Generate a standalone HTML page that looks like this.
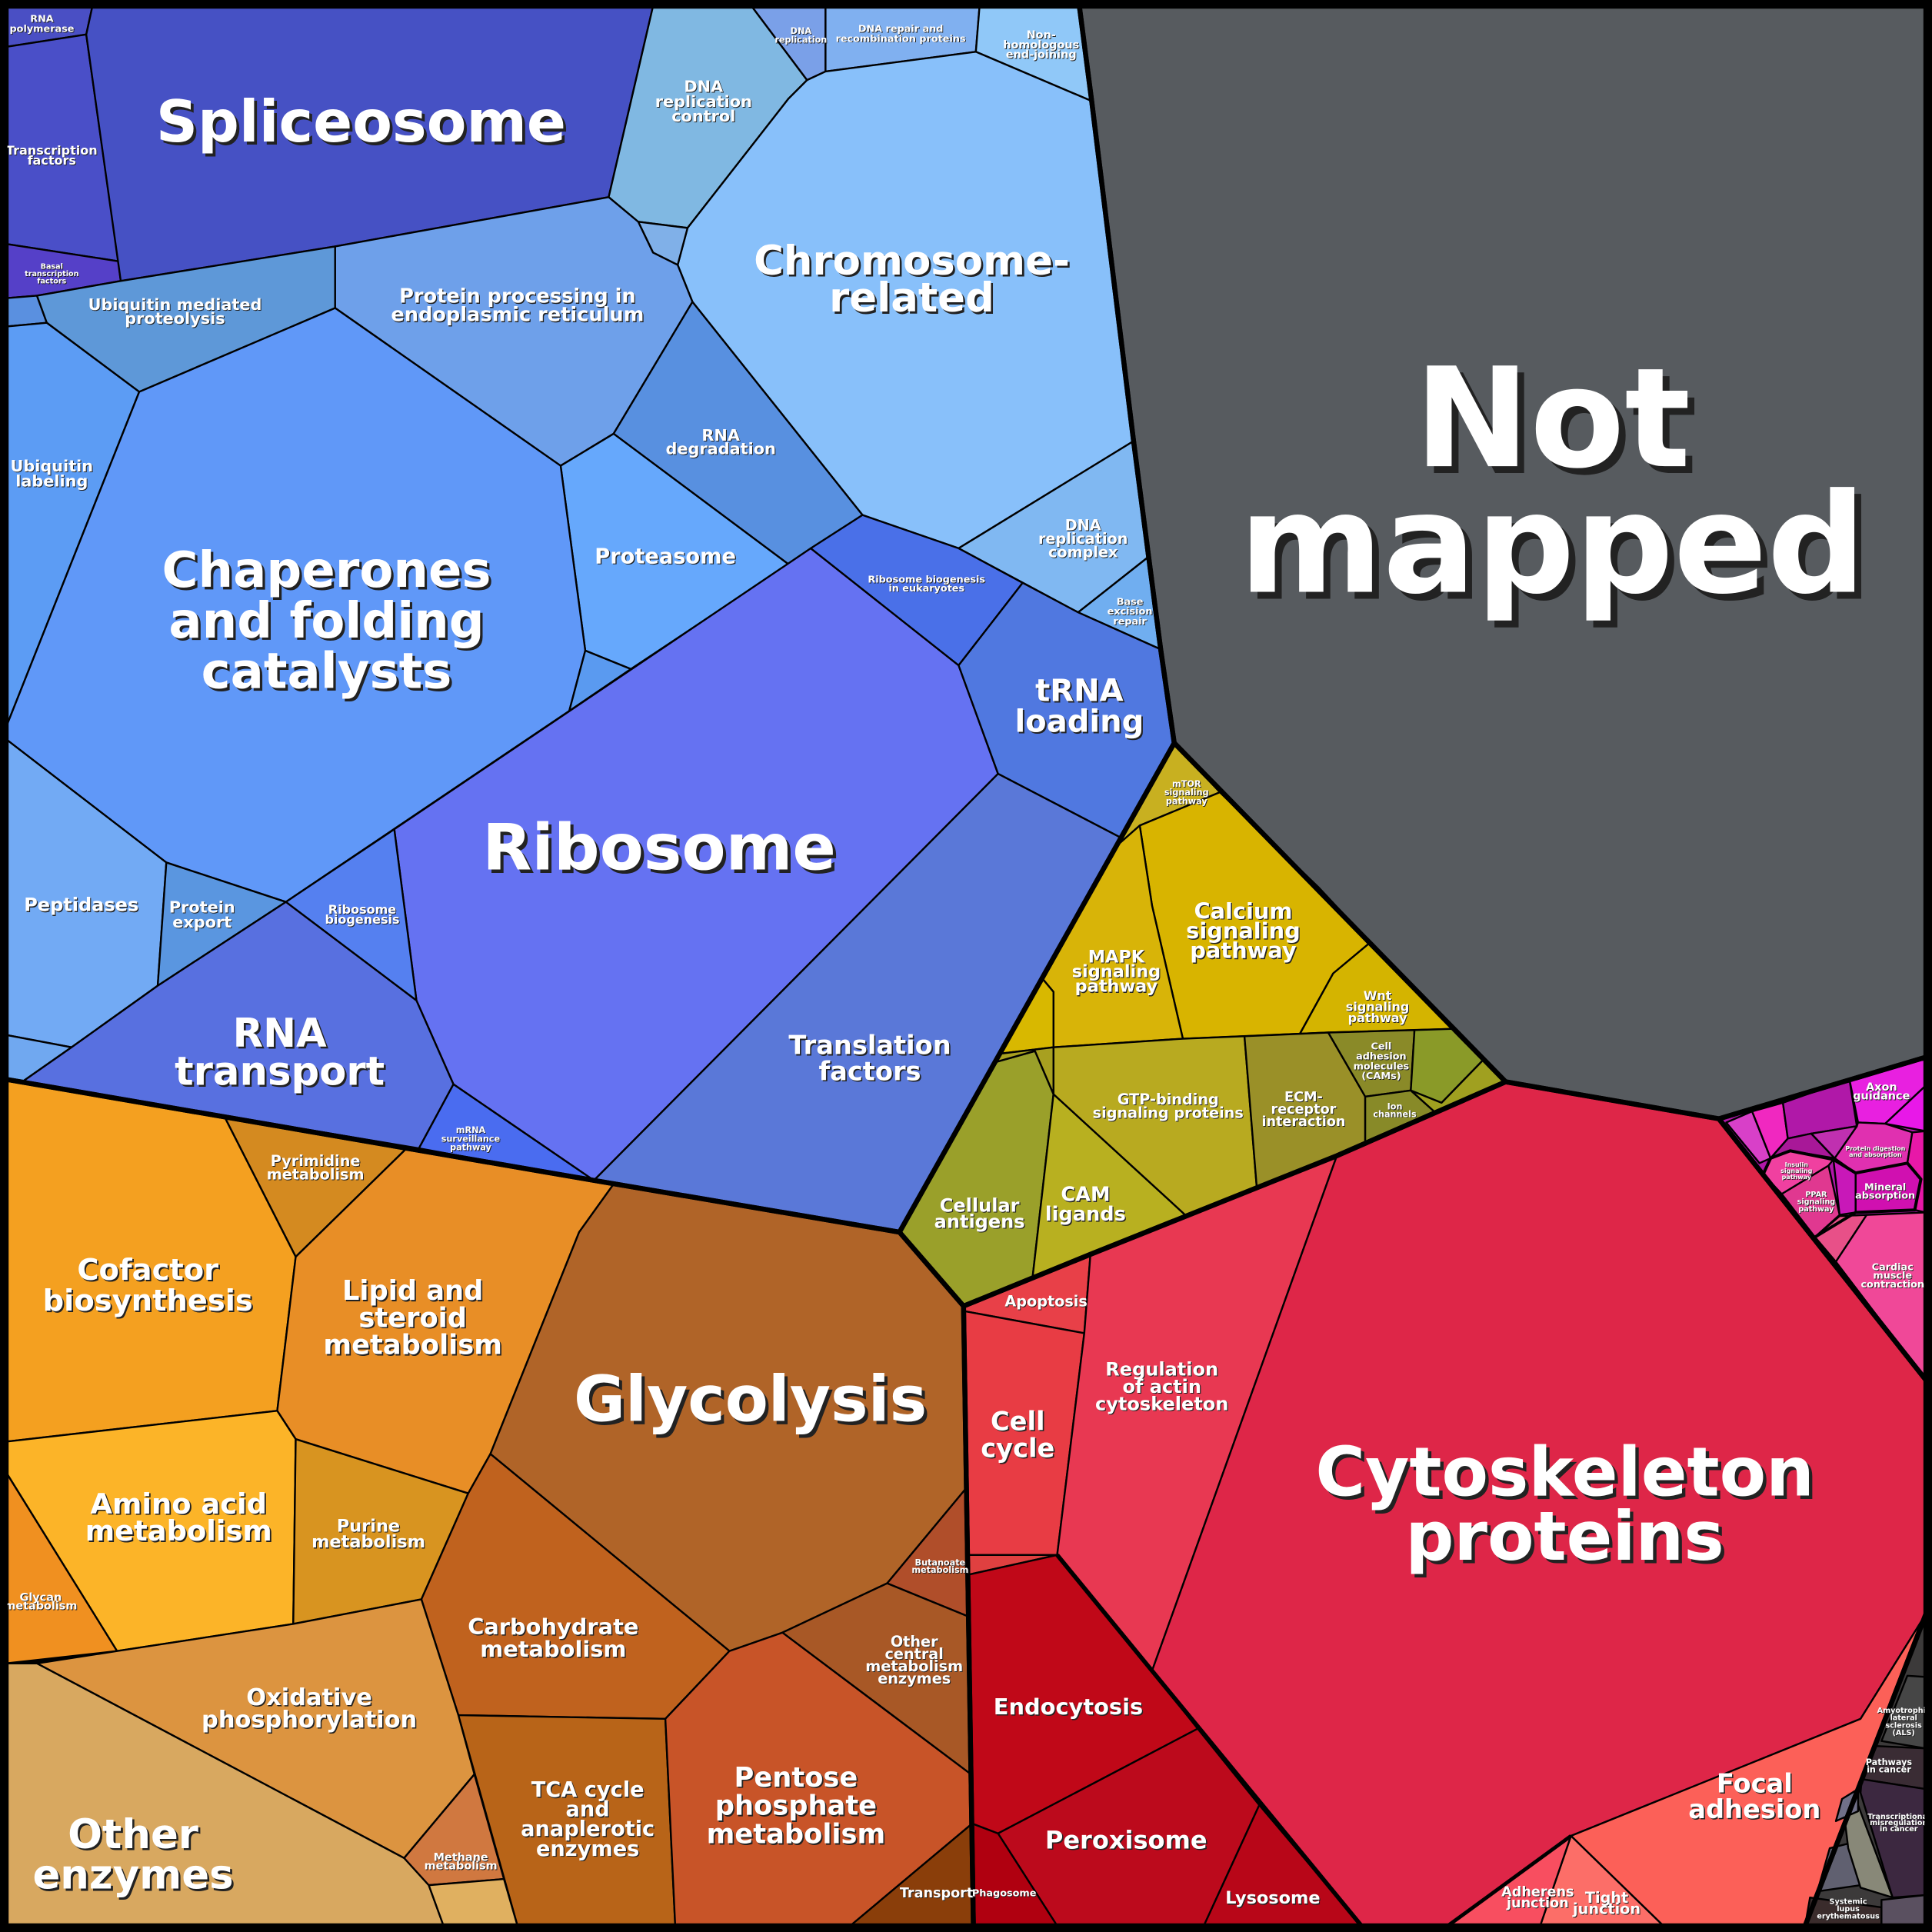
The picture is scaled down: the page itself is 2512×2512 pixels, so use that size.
<!DOCTYPE html>
<html><head><meta charset="utf-8"><style>
html,body{margin:0;padding:0;background:#fff;}
svg{display:block;}
text{font-family:"DejaVu Sans","Liberation Sans",sans-serif;font-weight:bold;text-anchor:middle;}
</style></head><body>
<svg id="chart" width="2512" height="2512" viewBox="0 0 1568 1568" xmlns="http://www.w3.org/2000/svg">
<rect x="0" y="0" width="1568" height="1568" fill="#000"/>
<g id="cells"></g>
<g id="groups"></g>
<g id="labels"></g>
<rect x="3" y="3" width="1562" height="1562" fill="none" stroke="#000" stroke-width="6"/>
</svg>
<script>
// cell names, colors and layout polygons (voronoi treemap tessellation)
const cellNames=["rna-polymerase","transcription-factors","basal-transcription-factors","spliceosome","dna-replication-control","dna-replication","dna-repair","non-homologous-end-joining","chromosome-related","mismatch-repair","dna-replication-complex","base-excision-repair","cellular-relay","ubiquitin-mediated-proteolysis","protein-processing-er","rna-degradation","proteasome","ubiquitin-labeling","chaperones","protease-small","peptidases","protein-export","snare","ribosome","ribosome-biogenesis","rna-transport","mrna-surveillance","ribosome-biogenesis-eukaryotes","trna-loading","translation-factors","not-mapped",
"yellow-top","calcium-signaling","mapk-signaling","wnt-signaling","endocrine-small","cellular-antigens","cam-ligands","gtp-binding","g-protein-small","ecm-receptor","cell-adhesion-molecules","ion-channels","neuroactive","yellow-right-small",
"pyrimidine","cofactor","lipid-steroid","amino-acid","glycan","purine","glycolysis","butanoate","other-central","carbohydrate","tca","pentose-phosphate","transport","oxidative-phosphorylation","other-enzymes","methane","orange-small",
"apoptosis","cell-cycle","red-small","regulation-actin","cytoskeleton","endocytosis","peroxisome","lysosome","phagosome","focal-adhesion","tight-junction","adherens-junction",
"magenta-base","axon-guidance","osteoclast","protein-digestion","mineral-absorption","salivary","ppar-signaling","insulin-signaling","vascular-smooth-muscle","cardiac-muscle","glutamatergic","vasopressin","magenta-cluster-a","magenta-cluster-b","magenta-cluster-c","fat-digestion",
"gray-base","als","pathways-in-cancer","transcriptional-misregulation","epstein-barr","herpes","htlv","sle","gray-small"];
const cellColors=["#4a4fc4","#4a4fc8","#5540c8","#4651c4","#80b8e2","#7aa0e8","#80b0f0","#90c8f8","#88c0fa","#80b0e8","#80b8f2","#70aef0","#5a90e0","#5e98d8","#6ea0ea","#5890e0","#66a8fc","#5c9cf4","#6098f8","#5a9af0","#72aaf4","#5a96e0","#70a8f0","#6572f2","#5580f0","#5870e0","#4a6cf0","#4a70e8","#5078e0","#5a78d8","#575b5f",
"#c8b020","#d8b400","#d8b408","#d4b400","#d8b800","#9aa02a","#b8b020","#b8aa20","#a8a020","#9a9028","#8a8a28","#888a28","#8a9a28","#a0a020",
"#d48a20","#f4a020","#e88e26","#fcb428","#f09020","#d89420","#b06428","#b04e2a","#a85826","#c0621e","#b86418","#c85428","#8a3e0a","#dc9440","#d8a860","#d07840","#e0b060",
"#e84048","#e83c44","#e04040","#e83852","#de2648","#c00818","#bc0a1c","#b80618","#b00010","#fc6058","#fc6e68","#f84e60",
"#b018a8","#e820e0","#e818e8","#e030b0","#d010b0","#c818b8","#e03890","#f040a0","#e85088","#f04898","#d840c8","#f028c0","#b018a8","#a81898","#c030b0","#e818a8",
"#3c3a3a","#464646","#3a2c34","#3c2840","#606070","#888878","#707088","#3a2c2c","#5a5060"];
const cellPolys=[
[[5,5],[75,5],[70,28],[5,38]],
[[5,38],[70,28],[96,212],[5,198]],
[[5,198],[96,212],[98,228],[30,240],[5,242]],
[[75,5],[530,5],[494,160],[272,200],[98,228],[70,28]],
[[530,5],[610,5],[655,65],[640,80],[558,185],[518,180],[494,160]],
[[610,5],[670,5],[670,58],[655,65]],
[[670,5],[795,5],[792,42],[670,58]],
[[795,5],[876,5],[886,82],[792,42]],
[[655,65],[670,58],[792,42],[886,82],[920,358],[778,445],[700,418],[562,245],[550,215],[558,185],[640,80]],
[[518,180],[558,185],[550,215],[530,205]],
[[920,358],[932,452],[875,497],[778,445]],
[[932,452],[942,527],[875,497]],
[[5,242],[30,240],[38,262],[5,265]],
[[30,240],[98,228],[272,200],[272,250],[113,318],[38,262]],
[[272,200],[494,160],[518,180],[530,205],[550,215],[562,245],[498,352],[455,378],[272,250]],
[[562,245],[700,418],[640,458],[498,352]],
[[498,352],[640,458],[512,543],[475,528],[455,378]],
[[5,265],[38,262],[113,318],[5,590]],
[[113,318],[272,250],[455,378],[475,528],[462,577],[232,732],[135,700],[5,600],[5,590]],
[[475,528],[512,543],[462,577]],
[[5,600],[135,700],[128,800],[58,850],[5,840]],
[[135,700],[232,732],[128,800]],
[[5,840],[58,850],[18,878],[5,876]],
[[320,673],[658,445],[778,540],[810,628],[482,958],[368,880],[338,812]],
[[232,732],[320,673],[338,812]],
[[18,878],[58,850],[128,800],[232,732],[338,812],[368,880],[340,932],[5,876]],
[[368,880],[482,958],[340,932]],
[[658,445],[700,418],[778,445],[830,473],[778,540]],
[[778,540],[830,473],[875,497],[942,527],[953,603],[910,680],[810,628]],
[[810,628],[910,680],[730,1000],[482,958]],
[[876,5],[1563,5],[1563,858],[1395,908],[1222,878],[953,603],[942,527],[920,358],[886,82]],
[[953,603],[990,643],[925,670],[908,685]],
[[925,670],[990,643],[1070,720],[1112,765],[1082,790],[1055,839],[960,843],[935,735]],
[[908,685],[925,670],[935,735],[960,843],[855,850],[855,805],[845,793]],
[[1082,790],[1112,765],[1180,835],[1078,838],[1055,839]],
[[845,793],[855,805],[855,850],[813,855]],
[[808,862],[840,853],[855,888],[838,1037],[782,1060],[730,1000]],
[[855,888],[963,987],[885,1018],[838,1037]],
[[855,850],[960,843],[1010,841],[1020,964],[963,987],[855,888]],
[[813,855],[855,850],[855,888],[840,853],[808,862]],
[[1010,841],[1078,838],[1108,890],[1108,928],[1020,964]],
[[1078,838],[1148,836],[1145,885],[1108,890]],
[[1108,890],[1145,885],[1165,903],[1108,928]],
[[1148,836],[1180,835],[1204,860],[1170,895],[1145,885]],
[[1145,885],[1170,895],[1204,860],[1222,878],[1165,903]],
[[182,906],[330,932],[240,1020]],
[[5,876],[182,906],[240,1020],[225,1145],[5,1170]],
[[240,1020],[330,932],[498,961],[470,1000],[398,1180],[380,1212],[240,1168],[225,1145]],
[[5,1170],[225,1145],[240,1168],[238,1318],[95,1340],[5,1195]],
[[5,1195],[95,1340],[5,1350]],
[[240,1168],[380,1212],[342,1298],[238,1318]],
[[470,1000],[498,961],[730,1000],[782,1060],[784,1208],[720,1285],[635,1325],[592,1340],[398,1180]],
[[784,1208],[786,1312],[720,1285]],
[[720,1285],[786,1312],[788,1440],[635,1325]],
[[398,1180],[592,1340],[540,1395],[372,1392],[342,1298],[380,1212]],
[[372,1392],[540,1395],[548,1563],[420,1563]],
[[592,1340],[635,1325],[788,1440],[789,1480],[690,1563],[548,1563],[540,1395]],
[[789,1480],[790,1563],[690,1563]],
[[30,1350],[95,1340],[238,1318],[342,1298],[372,1392],[385,1440],[328,1508]],
[[5,1350],[30,1350],[328,1508],[348,1530],[360,1563],[5,1563]],
[[328,1508],[385,1440],[409,1525],[348,1530]],
[[348,1530],[409,1525],[420,1563],[360,1563]],
[[782,1060],[885,1018],[880,1082],[782,1064]],
[[782,1064],[880,1082],[858,1262],[785,1262]],
[[785,1262],[858,1262],[786,1278]],
[[885,1018],[1085,938],[935,1356],[858,1262],[880,1082]],
[[1085,938],[1222,878],[1395,908],[1563,1120],[1563,1310],[1510,1395],[1275,1490],[1175,1563],[1105,1563],[935,1356]],
[[786,1278],[858,1262],[935,1356],[972,1403],[810,1488],[789,1480]],
[[810,1488],[972,1403],[1022,1465],[977,1563],[858,1563]],
[[1022,1465],[1105,1563],[977,1563]],
[[789,1480],[810,1488],[858,1563],[790,1563]],
[[1275,1490],[1510,1395],[1563,1310],[1465,1563],[1350,1563]],
[[1275,1490],[1350,1563],[1250,1563]],
[[1175,1563],[1275,1490],[1250,1563]],
[[1395,908],[1563,858],[1563,1120]],
[[1501,876],[1552,861],[1563,860],[1563,881],[1530,912],[1508,911]],
[[1563,881],[1563,918],[1530,912]],
[[1508,911],[1530,912],[1552,919],[1548,944],[1506,952],[1489,940],[1507,914]],
[[1506,952],[1548,944],[1559,957],[1554,982],[1506,984]],
[[1488,941],[1506,952],[1506,984],[1493,986]],
[[1446,969],[1484,946],[1493,986],[1473,1004]],
[[1431,953],[1437,940],[1453,934],[1488,941],[1484,946],[1446,969]],
[[1473,1004],[1493,987],[1515,986],[1490,1024]],
[[1490,1024],[1515,986],[1563,984],[1563,1120]],
[[1401,911],[1422,902],[1437,940],[1428,944]],
[[1422,902],[1447,895],[1451,924],[1437,940]],
[[1447,895],[1501,876],[1507,914],[1470,920],[1451,924]],
[[1451,924],[1470,920],[1489,940],[1453,934],[1437,940]],
[[1470,920],[1507,914],[1489,940]],
[[1552,919],[1563,918],[1563,984],[1554,982],[1559,957],[1548,944]],
[[1563,1310],[1465,1563],[1563,1563]],
[[1527,1413],[1548,1360],[1563,1361],[1563,1419]],
[[1521,1417],[1563,1419],[1563,1452],[1511,1444]],
[[1511,1444],[1563,1452],[1563,1538],[1536,1540],[1510,1455]],
[[1485,1500],[1505,1495],[1510,1530],[1475,1535]],
[[1497,1475],[1508,1465],[1536,1540],[1510,1532],[1500,1500]],
[[1495,1460],[1508,1452],[1508,1470],[1490,1478]],
[[1469,1540],[1527,1548],[1527,1563],[1465,1563]],
[[1527,1542],[1563,1538],[1563,1563],[1527,1563]]
];
const cellsG=document.getElementById('cells');
const NS='http://www.w3.org/2000/svg';
for(let i=0;i<cellPolys.length;i++){
  const p=document.createElementNS(NS,'polygon');
  p.setAttribute('points',cellPolys[i].map(q=>q.join(',')).join(' '));
  p.setAttribute('fill',cellColors[i]);
  p.setAttribute('stroke','#000');
  p.setAttribute('stroke-width','1.5');
  p.setAttribute('stroke-linejoin','round');
  
  
  cellsG.appendChild(p);
}
// group borders
const groupNames=["blue-group","not-mapped-group","yellow-group","orange-group","red-group","magenta-group","gray-group","red-subgroup-line","focal-subgroup-line","magenta-inner-line"];
const groupPolys=[
[[5,5],[876,5],[886,82],[920,358],[942,527],[953,603],[730,1000],[482,958],[5,876]],
[[876,5],[1563,5],[1563,858],[1395,908],[1222,878],[953,603],[942,527],[920,358],[886,82]],
[[953,603],[1222,878],[1085,938],[885,1018],[782,1060],[730,1000]],
[[5,876],[482,958],[730,1000],[782,1060],[790,1563],[5,1563]],
[[782,1060],[885,1018],[1085,938],[1222,878],[1395,908],[1563,1120],[1563,1310],[1465,1563],[790,1563]],
[[1395,908],[1563,858],[1563,1120]],
[[1563,1310],[1465,1563],[1563,1563]],
[[858,1262],[935,1356],[1105,1563]],
[[1175,1563],[1275,1490]],
[[1431,953],[1437,940],[1453,934],[1488,941],[1506,952],[1548,944],[1559,957],[1554,982],[1506,984],[1473,1004]]
];
const groupWidths=[4,4,4,4,4,4,4,3.5,3,2.5];
const groupsG=document.getElementById('groups');
for(let i=0;i<groupPolys.length;i++){
  const p=document.createElementNS(NS,i<7?'polygon':'polyline');
  p.setAttribute('points',groupPolys[i].map(q=>q.join(',')).join(' '));
  p.setAttribute('fill','none');
  p.setAttribute('stroke','#000');
  p.setAttribute('stroke-width',groupWidths[i]);
  p.setAttribute('stroke-linejoin','round');
  
  
  groupsG.appendChild(p);
}
// labels: text lines, center x, first line center y, font size, line spacing
const labelText=["Spliceosome","Chromosome-|related","Not|mapped","Chaperones|and folding|catalysts","Ribosome","RNA|transport","Translation|factors","tRNA|loading","Protein processing in|endoplasmic reticulum","Ubiquitin mediated|proteolysis","RNA|degradation","Proteasome","Ubiquitin|labeling","Peptidases","Protein|export","Ribosome|biogenesis","mRNA|surveillance|pathway","DNA|replication|control","DNA|replication|complex","Base|excision|repair","Ribosome biogenesis|in eukaryotes","Transcription|factors","RNA|polymerase","Basal|transcription|factors","DNA|replication","DNA repair and|recombination proteins","Non-|homologous|end-joining",
"Calcium|signaling|pathway","MAPK|signaling|pathway","Wnt|signaling|pathway","Cellular|antigens","CAM|ligands","GTP-binding|signaling proteins","ECM-|receptor|interaction","Cell|adhesion|molecules|(CAMs)","Ion|channels","mTOR|signaling|pathway",
"Cofactor|biosynthesis","Lipid and|steroid|metabolism","Pyrimidine|metabolism","Glycolysis","Amino acid|metabolism","Purine|metabolism","Glycan|metabolism","Carbohydrate|metabolism","Other|central|metabolism|enzymes","Butanoate|metabolism","Oxidative|phosphorylation","Other|enzymes","TCA cycle|and|anaplerotic|enzymes","Pentose|phosphate|metabolism","Transport","Methane|metabolism",
"Apoptosis","Cell|cycle","Regulation|of actin|cytoskeleton","Cytoskeleton|proteins","Endocytosis","Peroxisome","Lysosome","Phagosome","Focal|adhesion","Adherens|junction","Tight|junction",
"Axon|guidance","Cardiac|muscle|contraction","Mineral|absorption","Protein digestion|and absorption","Insulin|signaling|pathway","PPAR|signaling|pathway","Pathways|in cancer","Transcriptional|misregulation|in cancer","Amyotrophic|lateral|sclerosis|(ALS)","Systemic|lupus|erythematosus"];
const labelX=[293,740,1260,265,535,227,706,876,420,142,585,540,42,66,164,294,382,571,879,917,752,42,34,42,650,731,845,
1009,906,1118,795,881,948,1058,1121,1132,963,
120,335,256,609,145,299,33,449,742,763,251,108,477,646,760,374,
849,826,943,1270,867,914,1033,815,1424,1248,1304,
1527,1536,1530,1522,1458,1474,1533,1541,1545,1500];
const labelY=[98,211,338,462,687,838,848,560,240,247,353,451,378,734,736,738,917,70,426,488,470,122,15,216,25,23,28,
739,776,808,978,969,892,890,849,898,636,
1030,1047,942,1135,1220,1238,1296,1320,1332,1268,1377,1488,1452,1442,1536,1507,
1056,1153,1111,1194,1385,1493,1540,1536,1447,1535,1540,
882,1028,963,932,945,969,1430,1474,1388,1543];
const labelSize=[47,33,112,40,52,32,21,25,16,13,13,17,13,15,13,10,7,13,12,8,8,10,8,6,7,8,9,
18,14,10,15,16,12,11,8,7,7,24,22,12,51,23,14,9,18,12,7,19,33,17,22,11,9,
12,21,15,55,18,20,14,8,21,11,12,
9,8,8,5,5,6,7,6,6,6];
const labelGap=[0,30,102,41,0,31,21,25,15,11,11,0,12,0,12,8,7,12,11,8,7,8,8,6,7,8,8,
16,12,9,13,16,11,10,8,6,7,25,22,11,0,22,13,7,18,10,6,18,33,16,23,0,7,
0,22,14,52,0,0,0,0,21,9,9,
7,7,7,5,5,6,6,5,6,6];
const labelsG=document.getElementById('labels');
for(let i=0;i<labelText.length;i++){
  const lines=labelText[i].split('|');
  const g=document.createElementNS(NS,'g');
  
  
  const s=labelSize[i];
  for(const pass of [0,1]){
    const t=document.createElementNS(NS,'text');
    const off=pass===0?Math.max(0.6,s*0.05):0;
    t.setAttribute('x',labelX[i]+off);
    t.setAttribute('y',labelY[i]+s*0.36+off);
    t.setAttribute('font-size',s);
    t.setAttribute('fill',pass===0?'#222':'#fff');
    lines.forEach((ln,k)=>{
      const ts=document.createElementNS(NS,'tspan');
      ts.setAttribute('x',labelX[i]+off);
      if(k>0) ts.setAttribute('dy',labelGap[i]);
      ts.textContent=ln;
      t.appendChild(ts);
    });
    g.appendChild(t);
  }
  labelsG.appendChild(g);
}
</script>
</body></html>
